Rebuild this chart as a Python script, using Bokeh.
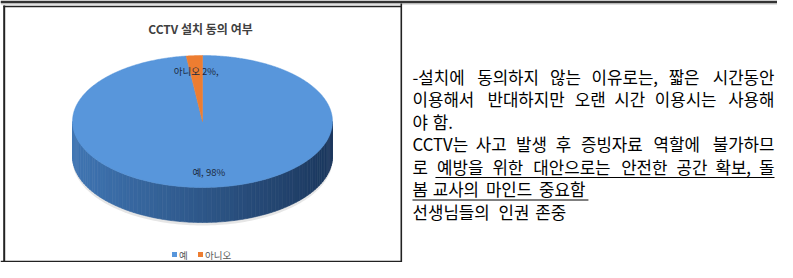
import numpy as np
from bokeh.plotting import figure
from bokeh.models import Range1d
from bokeh.core.properties import value
from bokeh.embed import file_html
from bokeh.resources import INLINE

# ---------------- data ----------------
title_text = "CCTV 설치 동의 여부"
categories = ["예", "아니오"]
values = [98, 2]
colors = ["#5896db", "#ed7d31"]
slice_labels = ["예, 98%", "아니오 2%,"]
legend_labels = ["예", "아니오"]

text_lines = [
    "-설치에 동의하지 않는 이유로는, 짧은 시간동안",
    "이용해서 반대하지만 오랜 시간 이용시는 사용해",
    "야 함.",
    "CCTV는 사고 발생 후 증빙자료 역할에 불가하므",
    "로 예방을 위한 대안으로는 안전한 공간 확보, 돌",
    "봄 교사의 마인드 중요함",
    "선생님들의 인권 존중",
]
justified = [True, True, False, True, True, False, False]
# index of first underlined word in each line (None = no underline)
underline_from = [None, None, None, None, 1, 0, None]

FONT = "Noto Sans CJK KR"

# ---------------- figure ----------------
W, H = 777, 262
p = figure(width=W, height=H, output_backend="svg", toolbar_location=None,
           x_range=Range1d(0, W), y_range=Range1d(H, 0),
           min_border=0)
p.axis.visible = False
p.grid.visible = False
p.outline_line_color = None
p.background_fill_color = "white"
p.border_fill_color = "white"

# table borders
p.segment(x0=[0], y0=[1.3], x1=[W], y1=[1.3], line_color="#333333", line_width=2.6)
p.segment(x0=[0], y0=[3.3], x1=[W], y1=[3.3], line_color="#9a9a9a", line_width=1)
p.segment(x0=[3], y0=[6], x1=[401], y1=[6], line_color="#222222", line_width=1.5)
p.segment(x0=[3.7], y0=[5], x1=[3.7], y1=[H], line_color="#222222", line_width=2)
p.segment(x0=[400.8], y0=[3], x1=[400.8], y1=[H], line_color="#222222", line_width=1.6)
p.segment(x0=[0], y0=[H - 1], x1=[401], y1=[H - 1], line_color="#222222", line_width=1.5)

# ---------------- 3D pie ----------------
cx, cy, a, b, depth = 202.0, 121.0, 130.0, 66.0, 35.0

def ell(theta_deg, dy=0.0):
    t = np.radians(theta_deg)
    return cx + a * np.cos(t), cy - b * np.sin(t) + dy

# soft shadow
ts = np.linspace(180, 360, 120)
sx, sy = ell(ts, depth + 3)
shadow_x = list(sx) + list(sx[::-1])
shadow_y = list(sy) + [cy + 3] * len(sx)
p.patch(shadow_x, shadow_y, fill_color="#b8b8b8", fill_alpha=0.35, line_color=None)

# side wall (front half), vertical strips with a gradient
c_left = np.array([64, 118, 180])
c_right = np.array([28, 56, 94])
edges = np.linspace(180, 360, 91)
sxs, sys, scol = [], [], []
for t0, t1 in zip(edges[:-1], edges[1:]):
    xa, ya = ell(t0)
    xb, yb = ell(t1)
    sxs.append([xa, xb, xb, xa])
    sys.append([ya, yb, yb + depth, ya + depth])
    u = ((xa + xb) / 2 - (cx - a)) / (2 * a)
    c = c_left * (1 - u) + c_right * u
    scol.append("#%02x%02x%02x" % tuple(int(v) for v in c))
p.patches(sxs, sys, fill_color=scol, line_color=scol, line_width=0.6)

# top face slices
total = float(sum(values))
start = 90.0
pxs, pys, mids = [], [], []
for v in values:
    sweep = 360.0 * v / total
    ts = np.linspace(start, start - sweep, max(4, int(sweep * 2)))
    ex, ey = ell(ts)
    pxs.append([cx] + list(ex) + [cx])
    pys.append([cy] + list(ey) + [cy])
    mids.append(start - sweep / 2)
    start -= sweep
p.patches(pxs, pys, fill_color=colors, line_color=colors, line_width=0.5)

# data labels
r = 0.77
lx = [cx + a * r * np.cos(np.radians(m)) for m in mids]
ly = [cy - b * r * np.sin(np.radians(m)) for m in mids]
p.text(x=lx, y=ly, text=slice_labels, text_align="center", text_baseline="middle",
       text_font=value(FONT), text_font_size="9.5px", text_color="#1c2b3f")

# title
p.text(x=[200], y=[28], text=[title_text], text_align="center", text_baseline="middle",
       text_font=value(FONT), text_font_size="12px", text_font_style="bold",
       text_color="#404040")

# legend
leg_x = [174, 200]
leg_y = 254
p.scatter(x=leg_x, y=[leg_y] * 2, marker="square", size=5, fill_color=colors, line_color=None)
p.text(x=[x + 4.5 for x in leg_x], y=[leg_y] * 2, text=legend_labels, text_align="left",
       text_baseline="middle", text_font=value(FONT), text_font_size="9.5px",
       text_color="#595959")

# ---------------- right text ----------------
FS = 16.8
TX0, TX1 = 412.0, 774.0
line_y0, line_dy = 76.0, 22.5

def cw(ch):
    if "\uac00" <= ch <= "\ud7a3":
        return 0.98
    if ch == " ":
        return 0.224
    if ch in ",.":
        return 0.22
    if ch == "-":
        return 0.31
    if ch == "C":
        return 0.6
    if ch == "T":
        return 0.53
    if ch == "V":
        return 0.57
    return 0.55

def tw(s):
    return sum(cw(c) for c in s) * FS

wx, wy, wtxt, walign = [], [], [], []
ul_x0, ul_x1, ul_y = [], [], []
for i, line in enumerate(text_lines):
    y = line_y0 + i * line_dy
    words = line.split(" ")
    widths = [tw(w) for w in words]
    if justified[i] and len(words) > 1:
        gap = (TX1 - TX0 - sum(widths)) / (len(words) - 1)
    else:
        gap = cw(" ") * FS
    pos = []
    x = TX0
    for w_, wd in zip(words, widths):
        pos.append(x)
        x += wd + gap
    n = len(words)
    for j, (w_, xpos, wd) in enumerate(zip(words, pos, widths)):
        if justified[i] and j == n - 1:
            wx.append(TX1); walign.append("right")
        elif justified[i] and j > 0:
            wx.append(xpos + wd / 2); walign.append("center")
        else:
            wx.append(xpos); walign.append("left")
        wy.append(y); wtxt.append(w_)
    if underline_from[i] is not None:
        k = underline_from[i]
        ul_x0.append(pos[k])
        ul_x1.append(TX1 if justified[i] else pos[-1] + widths[-1])
        ul_y.append(y + 11)

p.text(x=wx, y=wy, text=wtxt, text_align=walign, text_baseline="middle",
       text_font=value(FONT), text_font_size=f"{FS}px", text_color="#000000")
p.segment(x0=ul_x0, y0=ul_y, x1=ul_x1, y1=ul_y, line_color="#000000", line_width=1)

open("out.html", "w").write(file_html(p, INLINE))
